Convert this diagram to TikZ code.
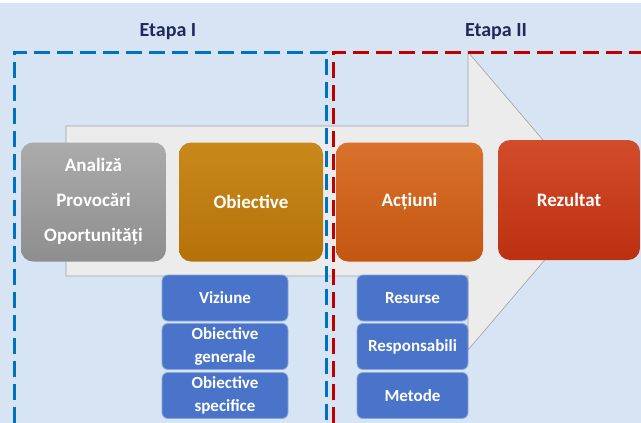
\documentclass[tikz,border=0pt]{standalone}
\usepackage{fontspec}
\setmainfont{Carlito}
\definecolor{bgblue}{HTML}{D6E4F3}
\definecolor{arrowfill}{HTML}{ECECEC}
\definecolor{arrowline}{HTML}{A0A0A0}
\definecolor{dashblue}{HTML}{0070C0}
\definecolor{dashred}{HTML}{C00000}
\definecolor{navy}{HTML}{1F2A5C}
\definecolor{greyT}{HTML}{ABABAB}
\definecolor{greyB}{HTML}{8E8E8E}
\definecolor{goldT}{HTML}{C8891A}
\definecolor{goldB}{HTML}{B5720A}
\definecolor{oranT}{HTML}{D9722C}
\definecolor{oranB}{HTML}{C45610}
\definecolor{redT}{HTML}{D24C2C}
\definecolor{redB}{HTML}{BC3010}
\definecolor{boxblue}{HTML}{4A74C9}
\definecolor{boxblueline}{HTML}{8AA6DA}
\tikzset{
  x=1pt, y=-1pt,
  bigbox/.style={rectangle, rounded corners=12pt, minimum height=119pt, align=center,
    text=white, font=\fontsize{19}{35}\selectfont\bfseries, inner sep=0pt},
  smallbox/.style={rectangle, rounded corners=6pt, minimum height=46pt, align=center,
    fill=boxblue, draw=boxblueline, line width=0.8pt, text=white,
    font=\fontsize{17}{23}\selectfont\bfseries, inner sep=0pt},
  stagelabel/.style={text=navy, font=\fontsize{20}{24}\selectfont\bfseries, inner sep=0pt},
  dashframe/.style={line width=3pt, dash pattern=on 16pt off 7pt},
}
\begin{document}
\begin{tikzpicture}
\useasboundingbox (0,0) rectangle (641,423);
\fill[white] (0,0) rectangle (641,423);
\fill[bgblue] (0,3) rectangle (641,423);
% big arrow
\draw[fill=arrowfill, draw=arrowline, line width=0.6pt]
  (66,126) -- (468,126) -- (468,52) -- (595,201) -- (468,350) -- (468,276) -- (66,276) -- cycle;
% stage frames
\draw[dashframe, dashblue] (14,423) -- (14,52) -- (326,52) -- (326,423);
\draw[dashframe, dashred] (333,423) -- (333,52) -- (645,52);
% stage labels
\node[stagelabel] (e1) at (168,32) {Etapa I};
\node[stagelabel] (e2) at (496,32) {Etapa II};
% main boxes
\node[bigbox, minimum width=145pt, top color=greyT, bottom color=greyB] (analiza) at (93.5,202)
  {Analiză\\Provocări\\Oportunități};
\node[bigbox, minimum width=144pt, top color=goldT, bottom color=goldB] (obiective) at (251,202) {Obiective};
\node[bigbox, minimum width=147pt, top color=oranT, bottom color=oranB] (actiuni) at (409.5,202) {Acțiuni};
\node[bigbox, minimum width=142pt, minimum height=120pt, top color=redT, bottom color=redB] (rezultat) at (569,200) {Rezultat};
% sub boxes
\node[smallbox, minimum width=126pt] (viziune) at (225,298) {Viziune};
\node[smallbox, minimum width=126pt] (obgen) at (225,346.5) {Obiective\\generale};
\node[smallbox, minimum width=126pt] (obspec) at (225,395.5) {Obiective\\specifice};
\node[smallbox, minimum width=111pt] (resurse) at (412.5,298) {Resurse};
\node[smallbox, minimum width=111pt] (resp) at (412.5,346.5) {Responsabili};
\node[smallbox, minimum width=111pt] (metode) at (412.5,395.5) {Metode};
\end{tikzpicture}
\end{document}
